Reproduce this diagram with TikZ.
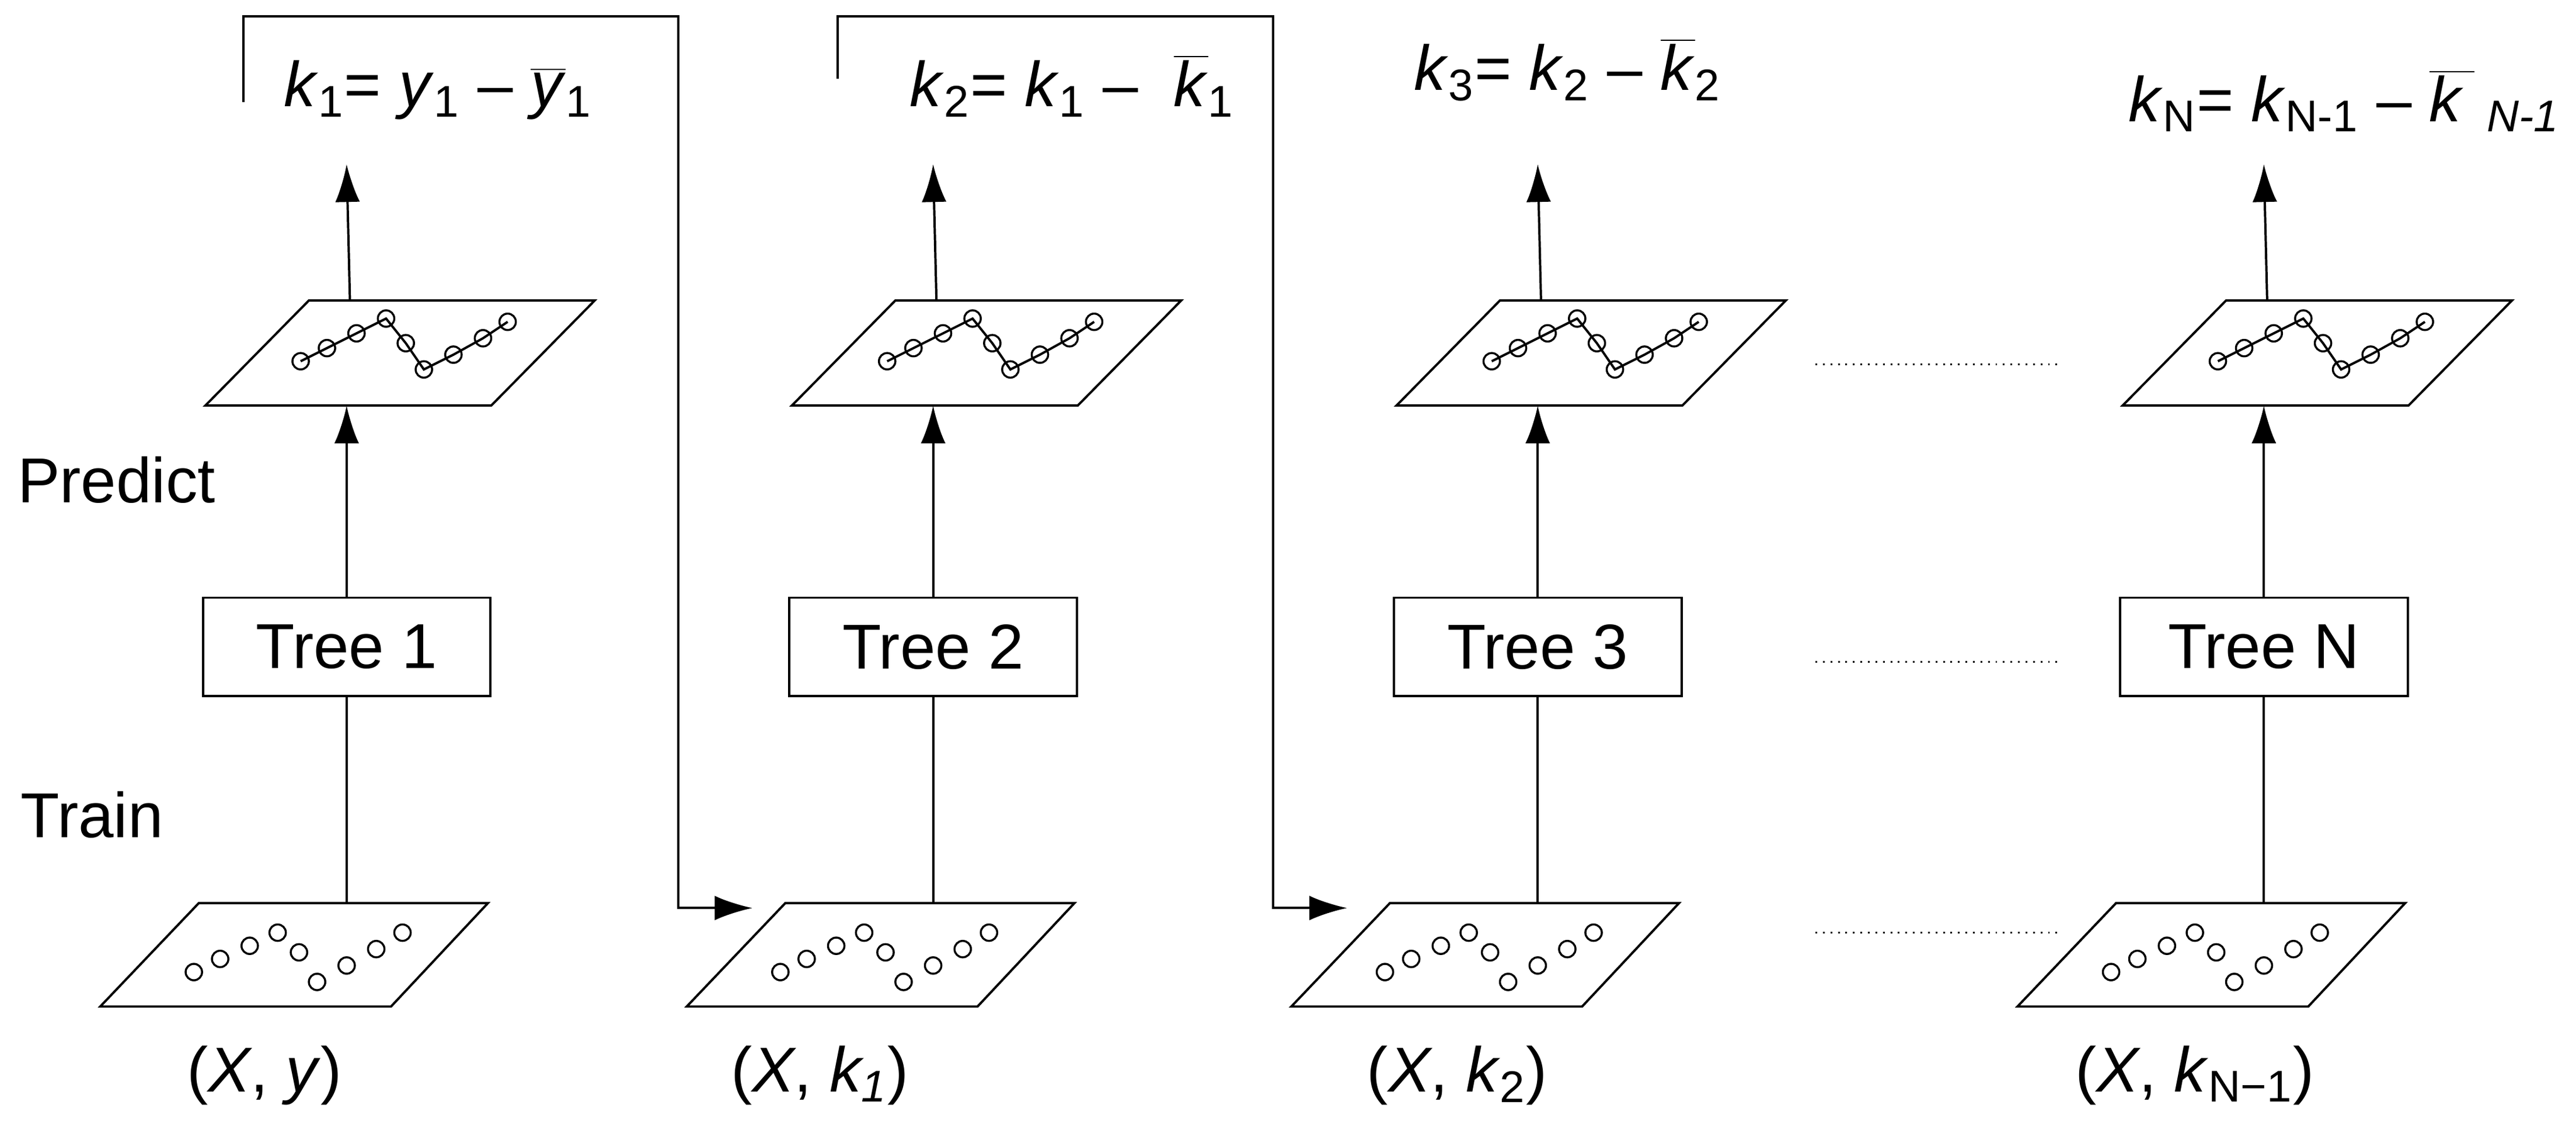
\documentclass[tikz,border=0pt]{standalone}
\usepackage{fontspec}
\setmainfont{Liberation Sans}
\usetikzlibrary{arrows.meta}
\begin{document}
\begin{tikzpicture}[x=0.02cm,y=-0.02cm,line width=0.8pt,
  lbl/.style={font=\fontsize{22}{26}\selectfont,inner sep=0pt},
  tree/.style={draw,minimum width=3.5cm,minimum height=1.2cm,inner sep=0pt,font=\fontsize{22}{26}\selectfont},
  arr/.style={-{Latex[length=0.46cm,width=0.3cm]}},
  pt/.style={draw,circle,inner sep=0pt,minimum size=0.2cm,line width=0.7pt},
  dots/.style={dotted,line width=0.6pt}]
\useasboundingbox (0,0) rectangle (1568,690);
\foreach \c/\t/\n in {211/1/a,568/2/b,936/3/c,1378/N/d}{
  % top parallelogram
  \draw (\c-86,247) -- (\c-23,183) -- (\c+151,183) -- (\c+88,247) -- cycle;
  \draw (\c-28,220) -- (\c-12,212) -- (\c+6,203) -- (\c+24,194) -- (\c+36,209) -- (\c+47,225) -- (\c+65,216) -- (\c+83,206) -- (\c+98,196);
  \foreach \dx/\dy [count=\k] in {-28/220,-12/212,6/203,24/194,36/209,47/225,65/216,83/206,98/196}
    \node[pt] (tp\n\k) at (\c+\dx,\dy) {};
  % bottom parallelogram
  \draw (\c-150,613) -- (\c-90,550) -- (\c+86,550) -- (\c+27,613) -- cycle;
  \foreach \dx/\dy [count=\k] in {-93/592,-77/584,-59/576,-42/568,-29/580,-18/598,0/588,18/578,34/568}
    \node[pt] (bp\n\k) at (\c+\dx,\dy) {};
  \coordinate (pbot\n) at (\c,247);
  \coordinate (ptop\n) at (\c+2,183);
  \coordinate (tip\n) at (\c,100);
  \coordinate (btop\n) at (\c,550);
  \node[tree] (tree\n) at (\c,394) {Tree \t};
  \draw (btop\n) -- (tree\n.south);
  \draw[arr] (tree\n.north) -- (pbot\n);
  \draw[arr] (ptop\n) -- (tip\n);
}
% feedback connectors
\coordinate (fa) at (148,62);
\coordinate (fb) at (510,48);
\coordinate (ia) at (458,553);
\coordinate (ib) at (820,553);
\draw[arr] (fa) |- (413,10) |- (ia);
\draw[arr] (fb) |- (775,10) |- (ib);
% dotted
\coordinate (d1a) at (1105,222); \coordinate (d1b) at (1252,222);
\coordinate (d2a) at (1105,403); \coordinate (d2b) at (1252,403);
\coordinate (d3a) at (1105,568); \coordinate (d3b) at (1252,568);
\draw[dots] (d1a) -- (d1b); \draw[dots] (d2a) -- (d2b); \draw[dots] (d3a) -- (d3b);
% formulas
\node[lbl,anchor=base west] (f1) at (172,65) {\textit{k}\textsubscript{1}= \textit{y}\textsubscript{1} – $\overline{\mbox{\textit{y}}}$\textsubscript{1}};
\node[lbl,anchor=base west] (f2) at (553,65) {\textit{k}\textsubscript{2}= \textit{k}\textsubscript{1} –~ $\overline{\mbox{\textit{k}}}$\textsubscript{1}};
\node[lbl,anchor=base west] (f3) at (860,55) {\textit{k}\textsubscript{3}= \textit{k}\textsubscript{2} – $\overline{\mbox{\textit{k}}}$\textsubscript{2}};
\node[lbl,anchor=base west] (f4) at (1295,74) {\textit{k}\textsubscript{N}= \textit{k}\textsubscript{N-1} – $\overline{\mbox{\textit{k}\,}}$\textsubscript{\textit{ N-1}}};
% side labels
\node[lbl,anchor=base west] (pred) at (10,306) {Predict};
\node[lbl,anchor=base west] (train) at (12,510) {Train};
% bottom labels
\node[lbl] (l1) at (161,655) {(\textit{X}, \textit{y})};
\node[lbl] (l2) at (499,655) {(\textit{X}, \textit{k\textsubscript{1}})};
\node[lbl] (l3) at (887,655) {(\textit{X}, \textit{k}\textsubscript{2})};
\node[lbl] (l4) at (1336,655) {(\textit{X}, \textit{k}\textsubscript{N−1})};
\end{tikzpicture}
\end{document}
